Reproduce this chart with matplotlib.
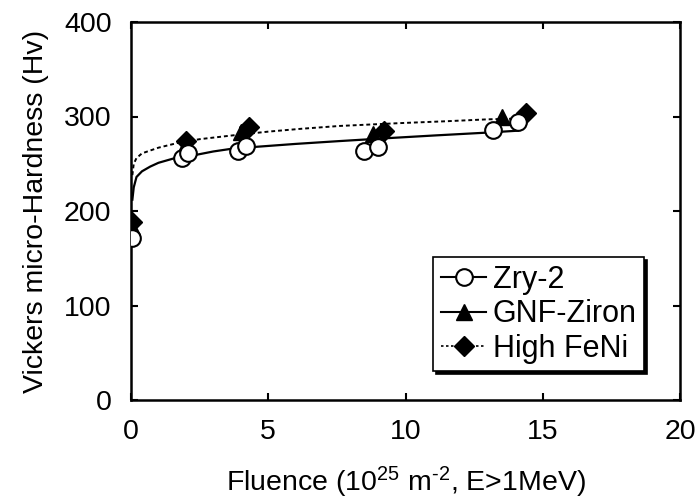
import matplotlib
matplotlib.use("Agg")
import matplotlib.pyplot as plt
from matplotlib.lines import Line2D

plt.rcParams['font.family'] = ['Liberation Sans', 'DejaVu Sans']
plt.rcParams['mathtext.fontset'] = 'custom'
plt.rcParams['mathtext.rm'] = 'Liberation Sans'
plt.rcParams['mathtext.it'] = 'Liberation Sans'
plt.rcParams['mathtext.bf'] = 'Liberation Sans:bold'

# Measured points
zry_x = [0.03, 1.86, 2.08, 3.9, 4.2, 8.5, 9.0, 13.2, 14.1]
zry_y = [171, 256, 261, 264, 269, 264, 268, 286, 294]

gnf_x = [0.03, 2.0, 4.0, 8.8, 13.5]
gnf_y = [183, 271, 284, 282, 300]

fen_x = [0.03, 2.0, 4.3, 9.2, 14.4]
fen_y = [188, 274, 289, 285, 304]

# Fit curves
zfit_x = [0.05, 0.1, 0.2, 0.4, 0.7, 1.0, 1.6, 2.3, 3.0, 3.7, 4.6, 6.0, 7.6, 9.3, 11.1, 13.0, 14.1]
zfit_y = [212, 225, 236, 242, 247, 251, 256, 259, 263, 266, 268, 271, 274, 277, 280, 283, 285]

ffit_x = [0.05, 0.1, 0.2, 0.4, 0.7, 1.0, 1.7, 2.5, 3.7, 5.0, 6.2, 7.6, 9.8, 11.5, 13.0, 14.4]
ffit_y = [238, 250, 256, 261, 264, 267, 272, 276, 280, 284, 287, 290, 293, 295, 297, 298]

fig = plt.figure(figsize=(6.98, 5.04), dpi=100)
ax = fig.add_axes([131/698, 1 - 400/504, 549/698, 378/504])

ax.plot(zfit_x, zfit_y, color='black', lw=1.6, zorder=2)
ax.plot(ffit_x, ffit_y, color='black', lw=1.4, ls=(0, (2, 1.5)), zorder=2)

ax.plot(fen_x, fen_y, ls='none', marker='D', ms=10, mfc='black', mec='black', zorder=3)
ax.plot(gnf_x, gnf_y, ls='none', marker='^', ms=11, mfc='black', mec='black', zorder=4)
ax.plot(zry_x, zry_y, ls='none', marker='o', ms=12, mfc='white', mec='black', mew=1.5, zorder=5)

ax.set_xlim(0, 20)
ax.set_ylim(0, 400)
ax.set_xticks([0, 5, 10, 15, 20])
ax.set_yticks([0, 100, 200, 300, 400])
ax.tick_params(direction='in', length=5, width=1.5, top=True, right=True,
               labelsize=20.5)
ax.tick_params(axis='x', pad=14)
ax.tick_params(axis='y', pad=14)
for s in ax.spines.values():
    s.set_linewidth(1.8)

ax.set_xlabel(r'Fluence (10$^{25}$ m$^{\text{-}2}$, E>1MeV)', fontsize=20.5, labelpad=14)
ax.set_ylabel('Vickers micro-Hardness (Hv)', fontsize=20.5, labelpad=11)

handles = [
    Line2D([], [], color='black', lw=1.5, marker='o', ms=12, mfc='white', mec='black', mew=1.5),
    Line2D([], [], color='black', lw=1.5, marker='^', ms=11, mfc='black', mec='black'),
    Line2D([], [], color='black', lw=1.2, ls=(0, (1.5, 1.5)), marker='D', ms=10, mfc='black', mec='black'),
]
labels = ['Zry-2', 'GNF-Ziron', 'High FeNi']
leg = ax.legend(handles, labels, loc='upper left', bbox_to_anchor=(433/698, 1 - 257/504),
                bbox_transform=fig.transFigure, fontsize=22, frameon=True, fancybox=False,
                edgecolor='black', handlelength=1.5, handletextpad=0.2, borderpad=0.25,
                labelspacing=0.15, borderaxespad=0,
                shadow={'color': 'black', 'alpha': 1, 'ox': 2, 'oy': -2})
leg.get_frame().set_linewidth(1.2)

fig.savefig('out.png', dpi=100)
